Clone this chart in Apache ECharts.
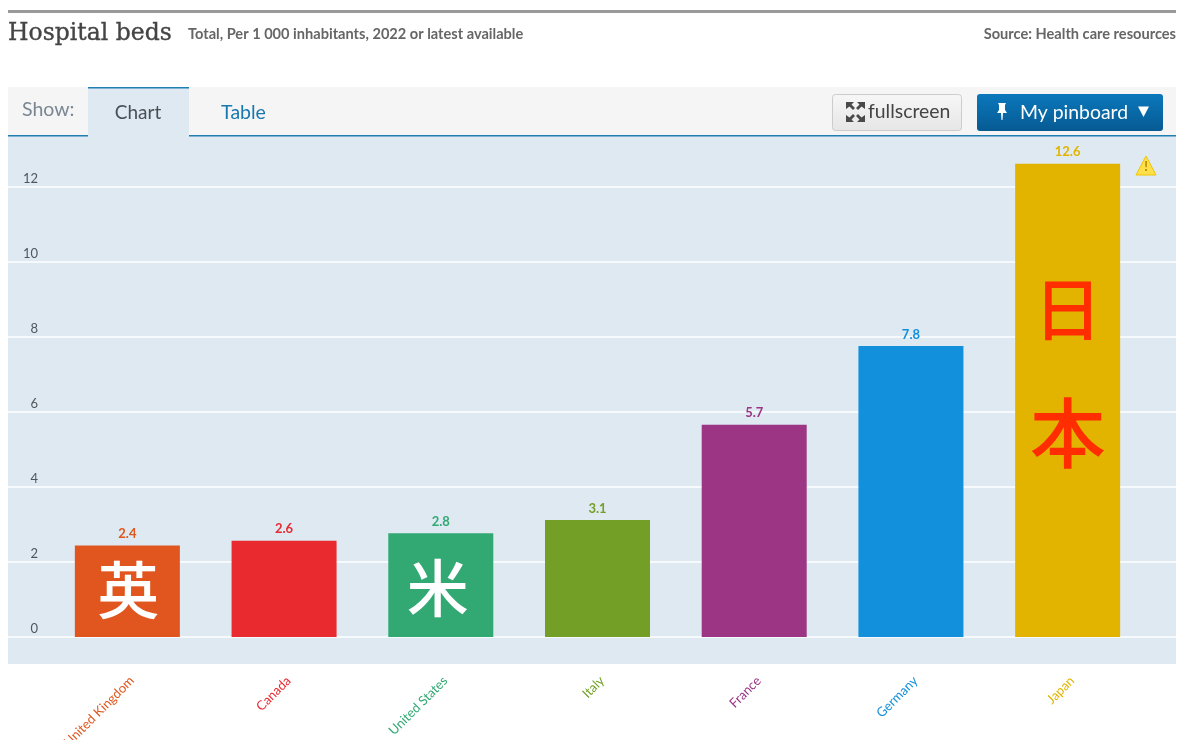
<!DOCTYPE html>
<html><head><meta charset="utf-8">
<style>html,body{margin:0;padding:0;background:#fff;overflow:hidden}#c{width:1200px;height:740px}</style>
<script src="https://cdn.jsdelivr.net/npm/echarts@6/dist/echarts.min.js"></script>
</head><body><div id="c"></div>
<script>
const categories = ['United Kingdom','Canada','United States','Italy','France','Germany','Japan'];
const values = [2.44,2.57,2.77,3.12,5.66,7.76,12.62];
const colors = ['#E0561E','#E92A2F','#32A873','#739F27','#9B3584','#1390DC','#E2B400'];
const yTicks = [0,2,4,6,8,10,12];
const glyphs = [['United Kingdom',1.25,'英','#fff',62,[1,0]],['United States',1.3,'米','#fff',62,[-3,0]],['Japan',8.73,'日','#FF2D00',68,[0,0]],['Japan',5.45,'本','#FF2D00',76,[0,0]]];

const UI = 'Lato, "Noto Sans", sans-serif';
const txt = (x,y,text,fill,size,weight,align,family)=>({type:'text',z:20,x,y,silent:true,style:{text,fill,font:(weight||'normal')+' '+size+'px '+(family||UI),textAlign:align||'left',textVerticalAlign:'middle'}});
const rect = (x,y,w,h,fill,extra)=>Object.assign({type:'rect',z:10,silent:true,shape:{x,y,width:w,height:h,r:(extra&&extra.r)||0},style:Object.assign({fill},(extra&&extra.style)||{})},extra&&extra.z?{z:extra.z}:{});
const grad = (a,b)=>new echarts.graphic.LinearGradient(0,0,0,1,[{offset:0,color:a},{offset:1,color:b}]);
const poly = (pts,fill,z)=>({type:'polygon',z:z||20,silent:true,shape:{points:pts},style:{fill}});

const iconFs = [
 poly([[846,102],[854,102],[851.5,104.5],[855,108],[853,110],[849.5,106.5],[846,109]],'#4a4a4a'),
 poly([[865,102],[857,102],[859.5,104.5],[856,108],[858,110],[861.5,106.5],[865,109]],'#4a4a4a'),
 poly([[846,122],[854,122],[851.5,119.5],[855,116],[853,114],[849.5,117.5],[846,115]],'#4a4a4a'),
 poly([[865,122],[857,122],[859.5,119.5],[856,116],[858,114],[861.5,117.5],[865,115]],'#4a4a4a'),
];

const title = txt(8,34,'Hospital beds','#444444',23.5,'normal','left','"DejaVu Serif", serif');
title.style.stroke = '#444444'; title.style.lineWidth = 0.35;

const chrome = [
 rect(8,136,1168,528,'#DEE9F2',{z:-10}),
 rect(8,10,1168,3,'#999999'),
 rect(8,87,1168,49,'#F5F5F5'),
 rect(8,135,1168,1.5,'#1F7FB0'),
 rect(88,87,101,50,'#DEE9F2',{z:11}),
 rect(88,87,101,1.5,'#1F7FB0',{z:12}),
 title,
 txt(188,34,'Total, Per 1 000 inhabitants, 2022 or latest available','#666666',14.6,'bold'),
 txt(1176,34,'Source: Health care resources','#666666',14.6,'bold','right'),
 txt(22,110,'Show:','#7A8793',19.5),
 Object.assign(txt(138,113,'Chart','#4A4F55',19,'normal','center'),{z:13}),
 txt(243.5,113,'Table','#1878B0',19.5,'normal','center'),
 rect(832.5,94.5,129,36,grad('#F7F7F7','#E6E6E6'),{r:3,style:{stroke:'#CCCCCC',lineWidth:1}}),
 ...iconFs,
 txt(868,112,'fullscreen','#444444',19.4),
 rect(977,94,186,37,grad('#0B78BC','#065A92'),{r:3}),
 poly([[998,103],[1006,103],[1005,105],[1005,110],[1007,113],[1003,113],[1002.5,120],[1001.5,120],[1001,113],[997,113],[999,110],[999,105]],'#fff'),
 txt(1020,113,'My pinboard','#FFFFFF',19.4),
 poly([[1138,106.5],[1149,106.5],[1143.5,117]],'#fff'),
 {type:'polygon',z:20,silent:true,shape:{points:[[1146,156],[1156,175],[1136,175]]},style:{fill:'#FFDF4A',stroke:'#F2C500',lineWidth:1,lineJoin:'round'}},
 txt(1146,167,'!','#B58A00',13,'bold','center'),
];

const chart = echarts.init(document.getElementById('c'),null,{renderer:'canvas',width:1200,height:740});
chart.setOption({
  animation:false,
  backgroundColor:'#fff',
  graphic:{elements:chrome},
  grid:[
    {left:8,width:1168,top:112,bottom:103,outerBoundsMode:'none'},
    {left:49,width:1097,top:112,bottom:103,outerBoundsMode:'none'}
  ],
  xAxis:[
    {gridIndex:0,type:'value',min:0,max:1,show:false,splitLine:{show:false}},
    {gridIndex:1,type:'category',data:categories,
     axisLine:{show:false},axisTick:{show:false},
     axisLabel:{interval:0,rotate:45,margin:37,fontSize:13,fontFamily:UI,verticalAlign:'top',
       color:(v,i)=>colors[i]}}
  ],
  yAxis:[
    {gridIndex:0,type:'value',min:yTicks[0],max:14,interval:yTicks[1]-yTicks[0],
     axisLine:{show:false},axisTick:{show:false},
     splitLine:{show:true,lineStyle:{color:'#FFFFFF',width:1.5}},
     axisLabel:{inside:true,margin:30,align:'right',verticalAlign:'bottom',padding:[0,0,2,0],
       showMaxLabel:false,color:'#50565C',fontSize:13,fontFamily:UI}},
    {gridIndex:1,type:'value',min:0,max:14,interval:2,show:false,splitLine:{show:false}}
  ],
  series:[
    {type:'bar',xAxisIndex:1,yAxisIndex:1,barWidth:105,
     data:values.map((v,i)=>({value:v,itemStyle:{color:colors[i]},
       label:{color:colors[i]}})),
     label:{show:true,position:'top',distance:5,fontSize:13,fontWeight:'bold',fontFamily:UI,
       formatter:p=>p.value.toFixed(1)}},
    {type:'scatter',xAxisIndex:1,yAxisIndex:1,symbolSize:0,z:5,silent:true,
     itemStyle:{opacity:1},
     data:glyphs.map(g=>({value:[g[0],g[1]],
       label:{show:true,position:'inside',offset:g[5],formatter:g[2],color:g[3],fontSize:g[4],opacity:1,
         fontWeight:500,fontFamily:'"Noto Sans CJK JP"'}}))}
  ]
});
</script></body></html>
